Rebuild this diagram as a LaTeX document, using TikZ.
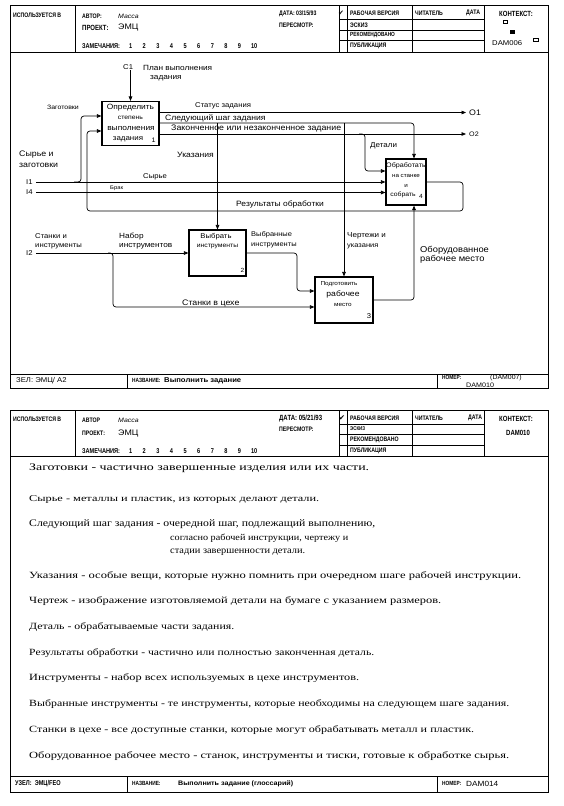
\documentclass[tikz,border=0pt]{standalone}
\usepackage{fontspec}
\usepackage{graphicx}
\setmainfont{Liberation Serif}
\newfontfamily\dsans[FakeStretch=1.1]{Liberation Sans}
\newfontfamily\hsans[FakeStretch=0.8]{Liberation Sans}
\newfontfamily\symf{DejaVu Sans}
\usetikzlibrary{arrows.meta,calc}
\newcommand\fs[1]{\fontsize{#1}{#1}\selectfont}
\newcommand\glw[2]{\resizebox{#1pt}{\height}{#2}}
\newcommand\nums{\hspace{9pt}1\hspace{10.5pt}2\hspace{10.5pt}3\hspace{10.5pt}4\hspace{10.5pt}5\hspace{10.5pt}6\hspace{10.5pt}7\hspace{10.5pt}8\hspace{10.5pt}9\hspace{10pt}10}
\begin{document}
\begin{tikzpicture}[x=1pt,y=-1pt,
  frame/.style={line width=0.9pt},
  thinl/.style={line width=0.6pt},
  funcbox/.style={draw,line width=1.2pt,inner sep=0pt},
  ln/.style={line width=0.7pt,rounded corners=3pt},
  arr/.style={ln,-{Triangle[length=4.5pt,width=3.6pt]}},
  lbl/.style={font=\dsans\fs{7}, inner sep=0pt, anchor=west},
  btxt/.style={font=\dsans, inner sep=0pt},
  hdr/.style={font=\hsans\bfseries\fs{6.5}, inner sep=0pt, anchor=west},
  hval/.style={font=\dsans\fs{7}, inner sep=0pt, anchor=west},
  glos/.style={font=\fs{9.5}, inner sep=0pt, anchor=west},
]
\useasboundingbox[fill=white] (0,0) rectangle (563,806);

% ================= TOP SHEET =================
\draw[frame] (10,5) rectangle (548,388);
\draw[frame] (10,52) -- (548,52);
\draw[frame] (10,374) -- (548,374);
\draw[thinl] (75,5) -- (75,52);
\draw[thinl] (339,5)--(339,52) (347,5)--(347,52) (412,5)--(412,52) (484,5)--(484,52);
\draw[thinl] (339,19.5)--(484,19.5) (339,30)--(484,30) (339,40.5)--(484,40.5);
\draw[thinl] (127,374)--(127,388) (437,374)--(437,388);

\node[hdr] (h1) at (13,15) {ИСПОЛЬЗУЕТСЯ В};
\node[hdr] (h2) at (82,16) {АВТОР:};
\node[hval,font=\dsans\itshape\fs{6.3}] (h3) at (118,16) {Масса};
\node[hdr,font=\hsans\bfseries\fs{7.5}] (h4) at (82,28) {ПРОЕКТ:};
\node[hval,font=\dsans\fs{8}] (h5) at (118,28) {ЭМЦ};
\node[hdr,font=\hsans\bfseries\fs{7}] (h6) at (82,46) {ЗАМЕЧАНИЯ:\nums};
\node[hdr] (h7) at (279,14) {ДАТА:\ 03/15/93};
\node[hdr] (h8) at (279,25) {ПЕРЕСМОТР:};
\node[font=\symf\fs{7},inner sep=0pt] (h9) at (341,13) {✔};
\node[hdr] (h10) at (350,13) {РАБОЧАЯ ВЕРСИЯ};
\node[hdr] (h11) at (415,13) {ЧИТАТЕЛЬ};
\node[hdr] (h12) at (466,13) {ДАТА};
\node[hdr] (h13) at (350,25) {ЭСКИЗ};
\node[hdr,font=\hsans\bfseries\fs{6}] (h14) at (350,35.5) {РЕКОМЕНДОВАНО};
\node[hdr] (h15) at (350,46) {ПУБЛИКАЦИЯ};
\node[hdr,font=\hsans\bfseries\fs{7.5}] (h16) at (499,14) {КОНТЕКСТ:};
\draw[thinl] (503,20) rectangle (507.5,23.5);
\fill (510,30) rectangle (514.5,33.5);
\node[hval,font=\dsans\fs{7}] (h17) at (492,43) {DAM006};
\draw[thinl] (533,38) rectangle (538,41.5);

\node[hval] (f1) at (16,380.5) {ЗЕЛ: ЭМЦ/ А2};
\node[hdr,font=\hsans\bfseries\fs{6}] (f2) at (132,380) {НАЗВАНИЕ:};
\node[hval,font=\dsans\bfseries\fs{7}] (f3) at (164,380.5) {Выполнить задание};
\node[hdr,font=\hsans\bfseries\fs{6}] (f4) at (442,377.5) {НОМЕР:};
\node[hval,font=\dsans\fs{6.3}] (f5) at (490,377.5) {(DAM007)};
\node[hval,font=\dsans\fs{6.5}] (f6) at (466,385) {DAM010};

% ---- function boxes ----
\node[funcbox, minimum width=57, minimum height=44] (b1) at (130.5,123.5) {};
\node[funcbox, minimum width=57, minimum height=46] (b2) at (217.5,253) {};
\node[funcbox, minimum width=58, minimum height=46] (b3) at (344,300) {};
\node[funcbox, minimum width=40, minimum height=46] (b4) at (406,182) {};

\node[btxt,font=\dsans\fs{7.6}] (b1a) at (130.5,108) {Определить};
\node[btxt,font=\dsans\fs{6.2}] (b1b) at (130.5,118) {степень};
\node[btxt,font=\dsans\fs{7.6}] (b1c) at (131,128.5) {выполнения};
\node[btxt,font=\dsans\fs{7.2}] (b1d) at (128,139) {задания};
\node[btxt,font=\dsans\fs{6.5}] (b1n) at (153.5,140) {1};

\node[btxt,font=\dsans\fs{6.5}] (b4a) at (406,166) {Обработать};
\node[btxt,font=\dsans\fs{5.7}] (b4b) at (406,176) {на станке};
\node[btxt,font=\dsans\fs{5.7}] (b4c) at (406,185.5) {и};
\node[btxt,font=\dsans\fs{6.2}] (b4d) at (403,195) {собрать};
\node[btxt,font=\dsans\fs{6}] (b4n) at (421,196) {4};

\node[btxt,font=\dsans\fs{7}] (b2a) at (216,237) {Выбрать};
\node[btxt,font=\dsans\fs{6.2}] (b2b) at (217.5,246) {инструменты};
\node[btxt,font=\dsans\fs{6}] (b2n) at (242.5,270) {2};

\node[btxt,font=\dsans\fs{5.8}] (b3a) at (339,284) {Подготовить};
\node[btxt,font=\dsans\fs{7.8}] (b3b) at (343,294) {рабочее};
\node[btxt,font=\dsans\fs{5.8}] (b3c) at (343,305) {место};
\node[btxt,font=\dsans\fs{7}] (b3n) at (369,316) {3};

% ---- boundary points ----
\coordinate (c1) at (130.5,70);
\coordinate (i1) at (36,182);
\coordinate (i4) at (36,192.5);
\coordinate (i2) at (36,253);
\coordinate (o1) at (466,112.5);
\coordinate (o2) at (466,134);

% ---- connectors ----
\draw[arr] (c1) -- (b1.north);
\draw[arr] (i1) -- (b4.west);
\draw[arr] (i4) -- ($(b4.west)+(0,10.5)$);
\draw[arr] (74,182) -| (81,116) -- ($(b1.west)+(0,-7.5)$);
\draw[arr] (b4.east) -- (463,182) -- (463,211) -- (87,211) -- (87,131) -- ($(b1.west)+(0,7.5)$);
\draw[arr] ($(b1.east)+(0,-11)$) -- (o1);
\draw[arr] ($(b1.east)+(0,-0.5)$) -- (414,123) -- ($(b4.north)+(8,0)$);
\draw[arr] (217.5,123) -- (b2.north);
\draw[arr] (344,123) -- (b3.north);
\draw[arr] ($(b1.east)+(0,10.5)$) -- (o2);
\draw[arr] (359,134) -| (365,171) -- ($(b4.west)+(0,-11)$);
\draw[arr] (i2) -- (b2.west);
\draw[arr] (108,253) -| (113,307) -- ($(b3.west)+(0,7)$);
\draw[arr] (b2.east) -- (297,253) -- (297,291) -- ($(b3.west)+(0,-9)$);
\draw[arr] (b3.east) -- (414,300) -- ($(b4.south)+(8,0)$);

% ---- labels ----
\node[lbl] (l1) at (123,67.5) {C1};
\node[lbl,font=\dsans\fs{7.5}] (l2) at (143,67.5) {План выполнения};
\node[lbl,font=\dsans\fs{7.5}] (l3) at (150,78) {задания};
\node[lbl,font=\dsans\fs{6.3}] (l4) at (47,107.5) {Заготовки};
\node[lbl,font=\dsans\fs{8}] (l5) at (19,155) {Сырье и};
\node[lbl,font=\dsans\fs{8}] (l6) at (19,165.5) {заготовки};
\node[lbl] (l7) at (26,182) {I1};
\node[lbl] (l8) at (26,192.5) {I4};
\node[lbl] (l9) at (143,176.5) {Сырье};
\node[lbl,font=\dsans\fs{5.3}] (l10) at (110,188.5) {Брак};
\node[lbl] (l11) at (195,105.5) {Статус задания};
\node[lbl,font=\dsans\fs{7.8}] (l12) at (165,118) {Следующий шаг задания};
\node[lbl,font=\dsans\fs{8}] (l13) at (171,129) {Законченное или незаконченное задание};
\node[lbl,font=\dsans\fs{7.8}] (l14) at (177,155) {Указания};
\node[lbl,font=\dsans\fs{7.3}] (l15) at (370,146) {Детали};
\node[lbl,font=\dsans\fs{8}] (l16) at (469,112.5) {O1};
\node[lbl,font=\dsans\fs{6.5}] (l17) at (469,134) {O2};
\node[lbl,font=\dsans\fs{7.7}] (l18) at (236,204) {Результаты обработки};
\node[lbl] (l19) at (35,236.5) {Станки и};
\node[lbl] (l20) at (35,246.5) {инструменты};
\node[lbl] (l21) at (26,253) {I2};
\node[lbl,font=\dsans\fs{7.5}] (l22) at (119,236.5) {Набор};
\node[lbl,font=\dsans\fs{7.5}] (l23) at (119,246.5) {инструментов};
\node[lbl,font=\dsans\fs{6.8}] (l24) at (251,234.5) {Выбранные};
\node[lbl,font=\dsans\fs{6.8}] (l25) at (251,245.5) {инструменты};
\node[lbl,font=\dsans\fs{7.3}] (l26) at (347,236) {Чертежи и};
\node[lbl,font=\dsans\fs{6.8}] (l27) at (347,246.5) {указания};
\node[lbl,font=\dsans\fs{8.5}] (l28) at (420,250) {Оборудованное};
\node[lbl,font=\dsans\fs{8.5}] (l29) at (420,259) {рабочее место};
\node[lbl,font=\dsans\fs{8}] (l30) at (182,303.5) {Станки в цехе};

% ================= BOTTOM SHEET =================
\draw[frame] (10,410) rectangle (548,792);
\draw[frame] (10,456) -- (548,456);
\draw[frame] (10,776) -- (548,776);
\draw[thinl] (75,410) -- (75,456);
\draw[thinl] (339,410)--(339,456) (347,410)--(347,456) (412,410)--(412,456) (484,410)--(484,456);
\draw[thinl] (339,424)--(484,424) (339,434.5)--(484,434.5) (339,445)--(484,445);
\draw[thinl] (127,776)--(127,792) (437,776)--(437,792);

\node[hdr] (k1) at (13,419) {ИСПОЛЬЗУЕТСЯ В};
\node[hdr] (k2) at (82,420) {АВТОР};
\node[hval,font=\dsans\itshape\fs{6.3}] (k3) at (118,420) {Масса};
\node[hdr] (k4) at (82,433) {ПРОЕКТ:};
\node[hval,font=\dsans\fs{8}] (k5) at (118,433) {ЭМЦ};
\node[hdr,font=\hsans\bfseries\fs{7}] (k6) at (82,451) {ЗАМЕЧАНИЯ:\nums};
\node[hdr,font=\hsans\bfseries\fs{7.5}] (k7) at (279,418.5) {ДАТА:\ 05/21/93};
\node[hdr] (k8) at (279,429) {ПЕРЕСМОТР:};
\node[font=\symf\fs{7.5},inner sep=0pt] (k9) at (342,418) {✔};
\node[hdr] (k10) at (350,418) {РАБОЧАЯ ВЕРСИЯ};
\node[hdr] (k11) at (415,418) {ЧИТАТЕЛЬ};
\node[hdr] (k12) at (468,418) {ДАТА};
\node[hdr,font=\hsans\bfseries\fs{5.5}] (k13) at (350,429) {ЭСКИЗ};
\node[hdr] (k14) at (350,439.5) {РЕКОМЕНДОВАНО};
\node[hdr] (k15) at (350,450.5) {ПУБЛИКАЦИЯ};
\node[hdr,font=\hsans\bfseries\fs{7.5}] (k16) at (499,419) {КОНТЕКСТ:};
\node[hval,font=\hsans\bfseries\fs{7.5}] (k17) at (506,433) {DAM010};

\node[hdr,font=\hsans\bfseries\fs{7}] (g1) at (15,783.5) {УЗЕЛ:\ \ ЭМЦ/FEO};
\node[hdr,font=\hsans\bfseries\fs{6}] (g2) at (132,783) {НАЗВАНИЕ:};
\node[hval,font=\dsans\bfseries\fs{6.5}] (g3) at (178,783.5) {Выполнить задание (глоссарий)};
\node[hdr,font=\hsans\bfseries\fs{6}] (g4) at (442,783) {НОМЕР:};
\node[hval,font=\dsans\fs{7.5}] (g5) at (466,784) {DAM014};

% ---- glossary ----
\node[glos,font=\fs{10}] (gl1) at (29,468) {\glw{340}{Заготовки - частично завершенные изделия или их части.}};
\node[glos,font=\fs{9}] (gl2) at (29,499) {\glw{290}{Сырье - металлы и пластик, из которых делают детали.}};
\node[glos,font=\fs{10}] (gl3) at (29,524) {\glw{346}{Следующий шаг задания - очередной шаг, подлежащий выполнению,}};
\node[glos,font=\fs{9}] (gl3b) at (170,538) {\glw{178}{согласно рабочей инструкции, чертежу и}};
\node[glos] (gl3c) at (170,552) {\glw{135}{стадии завершенности детали.}};
\node[glos] (gl4) at (29,576) {\glw{492}{Указания - особые вещи, которые нужно помнить при очередном шаге рабочей инструкции.}};
\node[glos] (gl5) at (29,601) {\glw{412}{Чертеж - изображение изготовляемой детали на бумаге с указанием размеров.}};
\node[glos] (gl6) at (29,627) {\glw{205}{Деталь - обрабатываемые части задания.}};
\node[glos] (gl7) at (29,653) {\glw{345}{Результаты обработки - частично или полностью законченная деталь.}};
\node[glos] (gl8) at (29,678) {\glw{330}{Инструменты - набор всех используемых в цехе инструментов.}};
\node[glos] (gl9) at (29,704) {\glw{480}{Выбранные инструменты - те инструменты, которые необходимы на следующем шаге задания.}};
\node[glos] (gl10) at (29,730) {\glw{445}{Станки в цехе - все доступные станки, которые могут обрабатывать металл и пластик.}};
\node[glos] (gl11) at (29,756) {\glw{480}{Оборудованное рабочее место - станок, инструменты и тиски, готовые к обработке сырья.}};
\end{tikzpicture}
\end{document}
